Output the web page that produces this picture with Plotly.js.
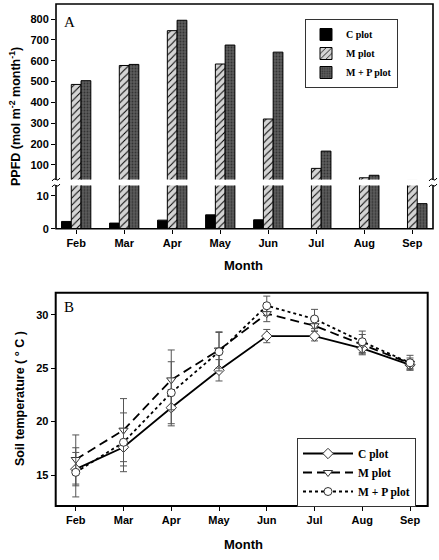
<!DOCTYPE html>
<html>
<head>
<meta charset="utf-8">
<script src="https://cdn.plot.ly/plotly-3.0.1.min.js"></script>
<style>
  body { margin: 0; background: #fff; }
  #chart { width: 439px; height: 560px; }
</style>
</head>
<body>
<div id="chart"></div>
<script>
// data
var months = ['Feb', 'Mar', 'Apr', 'May', 'Jun', 'Jul', 'Aug', 'Sep'];

// panel A: PPFD (mol m-2 month-1)
var ppfdC = [2.2, 1.7, 2.6, 4.2, 2.7, 0, 0, 0];
var ppfdM = [486, 577, 744, 584, 320, 83, 38, 25];
var ppfdMP = [504, 582, 794, 675, 641, 166, 50, 7.6];

// panel B: soil temperature (deg C) and error bars
var tempC = [15.55, 17.6, 21.3, 24.8, 28.0, 28.0, 26.85, 25.3];
var tempM = [16.45, 19.2, 23.9, 26.7, 30.1, 28.97, 27.2, 25.45];
var tempMP = [15.25, 18.06, 22.7, 26.54, 30.84, 29.6, 27.47, 25.5];
var errC = [1.56, 1.75, 1.7, 1.0, 0.62, 0.45, 0.5, 0.45];
var errM = [2.3, 2.95, 2.8, 1.7, 0.75, 0.5, 0.95, 0.5];
var errMP = [2.3, 2.75, 2.9, 1.8, 0.9, 0.9, 1.0, 0.7];

var W = 439, H = 560;
function X(p) { return p / W; }
function Y(p) { return 1 - p / H; }

var sans = 'Liberation Sans, Arial, sans-serif';
var serif = 'Liberation Serif, Times New Roman, serif';

var barStyles = {
    c: { color: '#000', line: { color: '#000', width: 1 } },
    m: { color: '#d4d4d4', line: { color: '#000', width: 1 },
         pattern: { shape: '/', bgcolor: '#d4d4d4', fgcolor: '#000', size: 5, solidity: 0.2 } },
    mp: { color: '#585858', line: { color: '#000', width: 1 },
          pattern: { shape: '.', bgcolor: '#5c5c5c', fgcolor: '#333', size: 3, solidity: 0.3 } }
};

function bars(yvals, name, key, yax, show) {
    return {
        type: 'bar', x: months, y: yvals, name: name,
        xaxis: 'x', yaxis: yax,
        marker: barStyles[key],
        legendgroup: key, showlegend: show, legend: 'legend',
        hoverinfo: 'skip'
    };
}

function temps(yvals, errs, name, symbol, dash) {
    return {
        type: 'scatter', mode: 'lines+markers', x: months, y: yvals, name: name,
        xaxis: 'x2', yaxis: 'y3', legend: 'legend2',
        line: { color: '#000', width: 1.8, dash: dash },
        marker: { symbol: symbol, size: 8, color: '#fff', line: { color: '#333', width: 1 } },
        error_y: { type: 'data', array: errs, color: '#555', thickness: 1, width: 3.5 }
    };
}

var data = [
    bars(ppfdC, 'C plot', 'c', 'y', true),
    bars(ppfdM, 'M plot', 'm', 'y', true),
    bars(ppfdMP, 'M + P plot', 'mp', 'y', true),
    bars(ppfdC, 'C plot', 'c', 'y2', false),
    bars(ppfdM, 'M plot', 'm', 'y2', false),
    bars(ppfdMP, 'M + P plot', 'mp', 'y2', false),
    temps(tempC, errC, 'C plot', 'diamond', 'solid'),
    temps(tempM, errM, 'M plot', 'triangle-down', '9px,5px'),
    temps(tempMP, errMP, 'M + P plot', 'circle', 'dot')
];

var tickFont = { family: sans, size: 11, color: '#000', weight: 'bold' };
var axisCommon = {
    showgrid: false, zeroline: false, showline: false, automargin: false,
    ticks: 'outside', ticklen: 4, tickwidth: 1, tickcolor: '#000',
    tickfont: tickFont, fixedrange: true
};

function ax(extra) { return Object.assign({}, axisCommon, extra); }

// squiggle marking the broken axis
function squig(cx, cy) {
    return 'M' + X(cx - 4) + ',' + Y(cy + 1.5) +
        ' Q' + X(cx - 2) + ',' + Y(cy - 2) + ' ' + X(cx) + ',' + Y(cy) +
        ' Q' + X(cx + 2) + ',' + Y(cy + 2) + ' ' + X(cx + 4) + ',' + Y(cy - 1.5);
}

var shapes = [
    { type: 'rect', xref: 'paper', yref: 'paper', x0: X(56), x1: X(433), y0: Y(228.7), y1: Y(4),
      line: { color: '#000', width: 1.6 } },
    { type: 'rect', xref: 'paper', yref: 'paper', x0: X(55.7), x1: X(427.7), y0: Y(506), y1: Y(292.7),
      line: { color: '#000', width: 2 } }
];
[56, 433].forEach(function (xp) {
    shapes.push({ type: 'rect', xref: 'paper', yref: 'paper', x0: X(xp - 3), x1: X(xp + 3),
        y0: Y(185.5), y1: Y(179.5), fillcolor: '#fff', line: { width: 0 } });
    shapes.push({ type: 'path', xref: 'paper', yref: 'paper', path: squig(xp, 179.5),
        line: { color: '#000', width: 1 } });
    shapes.push({ type: 'path', xref: 'paper', yref: 'paper', path: squig(xp, 185.5),
        line: { color: '#000', width: 1 } });
});

var titleFont = { family: sans, size: 13, color: '#000', weight: 'bold' };
function note(text, xp, yp, font, extra) {
    return Object.assign({
        text: text, x: X(xp), y: Y(yp), xref: 'paper', yref: 'paper',
        xanchor: 'center', yanchor: 'middle', showarrow: false, font: font
    }, extra || {});
}
var letterFont = { family: serif, size: 15, color: '#000' };
var yTitleFont = { family: sans, size: 12.5, color: '#000', weight: 'bold' };
var annotations = [
    note('A', 62, 22, letterFont, { xanchor: 'left' }),
    note('B', 62, 307, letterFont, { xanchor: 'left' }),
    note('Month', 243, 265.5, titleFont),
    note('Month', 243, 544, titleFont),
    note('PPFD (mol m<sup>-2</sup> month<sup>-1</sup>)', 15, 117, yTitleFont, { textangle: -90 }),
    note('Soil temperature ( \u00b0 C )', 20, 399, yTitleFont, { textangle: -90 })
];

var layout = {
    width: W, height: H,
    margin: { l: 0, r: 0, t: 0, b: 0 },
    paper_bgcolor: '#fff', plot_bgcolor: 'rgba(0,0,0,0)',
    barmode: 'group', bargap: 0.39, bargroupgap: 0,
    showlegend: true,
    xaxis: ax({ domain: [X(56), X(433)], anchor: 'y2', type: 'category', range: [-0.42, 7.43] }),
    yaxis: ax({ domain: [Y(179.5), Y(4)], anchor: 'x', range: [29.7, 872],
                tickvals: [100, 200, 300, 400, 500, 600, 700, 800] }),
    yaxis2: ax({ domain: [Y(228.7), Y(185.5)], anchor: 'x', range: [0, 13.1], tickvals: [0, 10] }),
    xaxis2: ax({ domain: [X(55.7), X(427.7)], anchor: 'y3', type: 'category', range: [-0.42, 7.37] }),
    yaxis3: ax({ domain: [Y(506), Y(292.7)], anchor: 'x2', range: [12.1, 32.06],
                 tickvals: [15, 20, 25, 30] }),
    legend: {
        x: X(305), y: Y(19), xanchor: 'left', yanchor: 'top',
        bgcolor: '#fff', bordercolor: '#333', borderwidth: 1,
        font: { family: serif, size: 10, color: '#000', weight: 'bold' },
        itemwidth: 30, tracegroupgap: 0
    },
    legend2: {
        x: X(297), y: Y(438), xanchor: 'left', yanchor: 'top',
        bgcolor: '#fff', bordercolor: '#333', borderwidth: 1,
        font: { family: serif, size: 11.5, color: '#000', weight: 'bold' },
        itemwidth: 50
    },
    shapes: shapes,
    annotations: annotations
};

Plotly.newPlot('chart', data, layout, { displayModeBar: false, staticPlot: true });
</script>
</body>
</html>
